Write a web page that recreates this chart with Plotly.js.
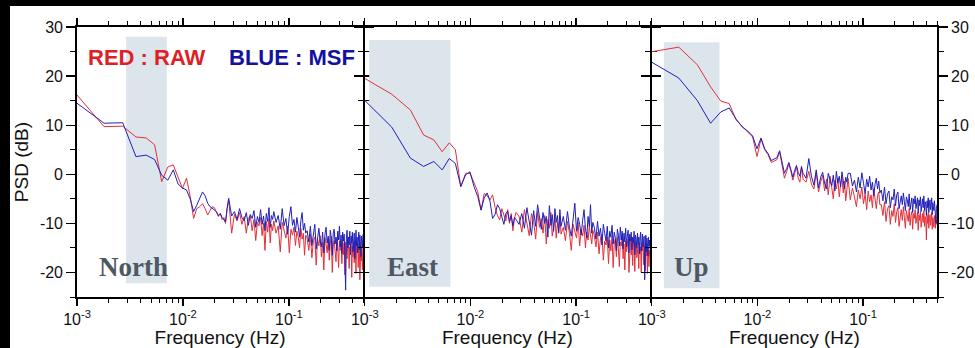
<!DOCTYPE html>
<html>
<head>
<meta charset="utf-8">
<script src="https://cdn.plot.ly/plotly-3.0.1.min.js"></script>
<style>
html,body{margin:0;padding:0;background:#fff;}
#chart{width:975px;height:348px;}
</style>
</head>
<body>
<div id="chart"></div>
<script>
// ---------------- DATA ----------------
const freqHz = [
  0.0009,0.0018,0.0027,0.0036,0.0045,0.0054,0.0063,0.0072,0.0081,0.0090,
  0.0099,0.0108,0.0117,0.0126,0.0135,0.0144,0.0153,0.0162,0.0171,0.0180,
  0.0189,0.0198,0.0207,0.0216,0.0225,0.0234,0.0243,0.0252,0.0261,0.0270,
  0.0288,0.0306,0.0324,0.0342,0.0360,0.0378,0.0396,0.0414,0.0432,0.0450,0.0468,0.0486,0.0504,
  0.0522,0.0540,0.0558,0.0576,0.0594,0.0612,0.0630,0.0648,0.0666,0.0684,0.0702,0.0720,
  0.0756,0.0792,0.0828,0.0864,0.0900,0.0936,0.0972,0.1008,0.1044,0.1080,
  0.1116,0.1152,0.1188,0.1224,0.1260,0.1296,0.1332,0.1368,0.1404,0.1440,
  0.1485,0.1539,0.1593,0.1647,0.1701,0.1755,0.1809,0.1863,0.1917,0.1971,0.2025,
  0.2079,0.2133,0.2187,0.2241,0.2295,0.2349,0.2403,0.2457,0.2511,0.2565,0.2619,
  0.2673,0.2727,0.2781,0.2835,0.2889,0.2943,0.2997,0.3051,0.3105,0.3159,0.3213,
  0.3267,0.3321,0.3375,0.3429,0.3483,0.3537,0.3591,0.3645,0.3699,0.3753,0.3807,
  0.3861,0.3915,0.3969,0.4023,0.4077,0.4131,0.4185,0.4239,0.4293,0.4347,0.4401,
  0.4455,0.4509,0.4563,0.4617,0.4671,0.4725,0.4779,0.4833,0.4887,0.4941,0.4995
];

const northRaw = [
  17.3, 9.7, 9.8, 7.6, 7.4, 6.0, -1.5, 1.5, 1.9, -0.5,
  -2.9, -0.8, -4.5, -9.0, -7.0, -6.6, -6.0, -7.0, -8.3, -7.4,
  -6.6, -6.8, -7.6, -8.6, -8.0, -9.2, -8.8, -10.0, -7.0, -5.2,
  -12.0, -8.2, -9.5, -7.8, -10.2, -8.6, -12.0, -9.0, -8.4, -11.5, -9.2, -13.5, -9.8,
  -10.5, -8.8, -12.5, -10.0, -15.5, -9.6, -11.8, -9.0, -14.0, -10.2, -11.5, -9.5,
  -12.0, -10.5, -15.8, -9.8, -11.5, -13.0, -10.6, -16.0, -11.2, -12.4,
  -10.8, -14.5, -11.6, -12.8, -15.0, -11.0, -13.2, -12.0, -16.5, -12.4,
  -13.0, -15.5, -12.2, -17.0, -13.5, -12.8, -18.5, -13.2, -14.6, -12.5, -16.8,
  -13.8, -19.5, -12.9, -14.2, -16.0, -13.1, -17.5, -14.0, -12.6, -20.0, -14.4,
  -13.5, -15.2, -17.8, -13.0, -14.8, -19.0, -13.6, -15.5, -14.1, -18.2, -13.4,
  -16.4, -14.0, -20.5, -13.8, -15.0, -17.2, -14.3, -13.6, -19.2, -14.8, -15.6,
  -13.9, -21.0, -14.6, -16.8, -14.2, -18.0, -13.8, -15.4, -20.2, -14.5, -16.0,
  -14.0, -19.0, -15.2, -14.4, -21.5, -15.8, -14.6, -17.6, -15.0, -19.5, -15.6
];
const northMsf = [
  15.2, 10.4, 10.5, 3.6, 3.9, 3.0, -0.2, -1.2, 0.9, -2.0,
  -2.8, -3.2, -5.0, -7.6, -6.3, -4.8, -3.6, -4.4, -5.9, -6.6,
  -7.0, -7.2, -7.6, -8.4, -8.0, -8.8, -9.2, -9.7, -7.0, -4.9,
  -8.5, -7.6, -9.2, -7.0, -8.8, -9.5, -7.8, -10.4, -8.2, -9.0, -7.4, -10.8, -8.6,
  -9.8, -7.2, -10.2, -8.5, -11.5, -8.0, -9.6, -6.8, -10.8, -8.4, -9.2, -7.6,
  -9.8, -8.4, -11.2, -7.0, -10.5, -9.0, -12.2, -8.6, -6.6, -10.4,
  -9.2, -11.8, -8.8, -10.6, -12.8, -9.4, -7.8, -11.4, -10.0, -12.0,
  -11.5, -13.8, -10.6, -14.5, -12.0, -10.2, -15.2, -12.4, -11.0, -13.6, -14.8,
  -11.8, -16.0, -12.2, -10.8, -14.0, -12.6, -15.5, -11.4, -13.0, -16.5, -12.0,
  -11.2, -14.2, -12.8, -15.6, -11.6, -13.4, -10.6, -14.8, -12.4, -16.2, -11.8,
  -13.6, -12.2, -17.0, -23.6, -13.0, -11.4, -15.0, -12.8, -14.4, -11.6, -16.4,
  -12.6, -14.0, -11.8, -15.8, -13.2, -12.0, -17.2, -13.6, -11.4, -14.6, -12.8,
  -16.0, -13.0, -11.8, -15.4, -12.4, -14.2, -16.8, -12.6, -13.4, -15.0, -12.2
];

const eastRaw = [
  20.1, 16.3, 13.1, 8.0, 7.0, 4.6, 6.4, 5.0, -2.5, 0.2,
  0.2, -1.8, -3.5, -7.3, -3.9, -4.4, -5.2, -4.2, -6.8, -8.4,
  -9.3, -7.0, -8.2, -9.5, -7.2, -10.0, -8.0, -11.5, -9.0, -7.8,
  -8.5, -11.8, -7.2, -10.0, -12.5, -8.0, -9.6, -13.2, -7.6, -10.8, -9.0, -12.0, -8.4,
  -14.2, -9.2, -11.0, -7.8, -12.6, -10.2, -8.8, -13.0, -9.8, -11.6, -8.6, -12.2,
  -10.8, -13.5, -9.6, -12.0, -15.5, -10.2, -11.8, -13.0, -9.8, -14.6,
  -11.2, -12.6, -10.4, -15.0, -11.8, -13.4, -10.6, -12.8, -14.2, -11.4,
  -12.5, -14.8, -11.8, -16.2, -13.0, -12.2, -17.5, -13.6, -14.4, -12.8, -18.2,
  -13.4, -15.6, -12.6, -19.0, -14.0, -13.2, -16.8, -12.9, -15.2, -18.8, -13.8,
  -14.6, -12.8, -17.2, -14.2, -19.5, -13.6, -15.8, -14.4, -13.2, -20.0, -14.8,
  -13.6, -16.4, -14.0, -18.6, -13.8, -15.2, -19.8, -14.2, -13.6, -17.0, -15.0,
  -14.4, -19.2, -13.9, -16.2, -14.8, -20.0, -14.2, -15.6, -13.8, -18.4, -15.2,
  -14.6, -19.6, -14.0, -16.6, -15.2, -20.2, -14.8, -16.0, -18.8, -15.4, -17.0
];
const eastMsf = [
  16.0, 9.6, 3.3, 1.6, 2.6, 0.9, 3.2, 2.2, -2.5, -0.1,
  0.5, -2.5, -4.5, -7.3, -4.8, -3.8, -5.5, -9.0, -8.2, -6.2,
  -7.0, -8.8, -10.2, -8.0, -7.5, -9.6, -8.4, -10.5, -8.8, -9.2,
  -10.2, -8.0, -11.0, -6.8, -9.6, -12.4, -7.4, -10.6, -6.2, -9.0, -11.2, -7.8, -10.0,
  -8.6, -12.8, -6.4, -10.4, -8.2, -11.6, -7.0, -9.8, -8.4, -12.0, -7.2, -10.6,
  -8.6, -11.4, -7.6, -10.8, -12.6, -9.0, -5.9, -11.6, -8.8, -10.2,
  -12.4, -9.4, -7.2, -11.0, -13.0, -8.6, -10.6, -6.2, -12.0, -9.8,
  -10.8, -13.2, -9.6, -12.6, -11.0, -14.4, -10.2, -12.0, -13.6, -10.6, -15.0,
  -11.6, -12.8, -10.4, -14.2, -11.8, -13.0, -15.6, -11.2, -12.4, -14.6, -10.8,
  -13.4, -11.6, -15.2, -12.0, -13.8, -11.0, -14.8, -12.6, -11.4, -16.0, -12.2,
  -13.6, -11.8, -15.4, -12.8, -14.0, -11.6, -16.4, -12.4, -13.2, -15.0, -12.0,
  -14.4, -12.8, -16.2, -13.0, -11.8, -15.6, -13.4, -12.2, -14.8, -13.6, -12.6,
  -21.5, -13.8, -12.4, -15.8, -13.0, -14.2, -16.6, -12.8, -14.6, -13.4, -15.2
];

const upRaw = [
  24.8, 25.9, 22.3, 17.8, 14.9, 14.4, 11.0, 9.8, 8.6, 7.6,
  3.6, 7.2, 5.0, 4.0, 2.4, 2.8, 3.0, 4.6, 1.8, -0.8,
  0.5, 2.2, 0.6, -1.2, 0.2, 1.5, -0.8, -1.6, 1.4, -1.0,
  -1.6, 0.6, -2.0, -3.0, 0.4, -3.6, -1.6, -0.2, -3.4, -1.0, -4.2, -0.4, -2.6,
  -5.0, -1.2, -3.0, -0.8, -4.6, -2.0, -0.6, -3.8, -1.4, -5.4, -2.2, -0.8,
  -5.2, -2.8, -4.6, -6.6, -3.2, -5.0, -2.6, -6.0, -4.0, -7.2,
  -3.4, -5.6, -4.2, -6.8, -3.0, -5.4, -7.0, -4.4, -3.6, -6.2,
  -6.2, -8.4, -5.6, -9.6, -7.0, -6.4, -10.2, -7.4, -8.6, -6.0, -9.8,
  -7.6, -6.8, -10.6, -8.0, -7.2, -9.4, -6.6, -8.8, -11.0, -7.4, -8.2,
  -9.6, -7.0, -10.4, -8.4, -7.6, -11.2, -8.0, -9.0, -7.2, -10.0, -8.6,
  -7.8, -11.4, -8.2, -9.4, -7.6, -10.8, -8.8, -8.0, -9.8, -7.4, -10.6,
  -8.6, -9.2, -13.4, -8.4, -10.0, -7.8, -11.0, -9.0, -8.2, -10.4, -9.4,
  -7.8, -11.2, -8.8, -9.6, -10.8, -8.4, -9.8, -11.0, -8.6, -10.2, -9.2
];
const upMsf = [
  23.4, 19.6, 15.0, 10.4, 12.7, 13.5, 11.2, 9.6, 8.8, 7.8,
  5.2, 7.4, 5.2, 4.2, 2.8, 3.2, 3.4, 4.8, 2.4, 0.2,
  1.2, 2.4, 1.0, -0.6, 0.8, 1.8, 0.4, -0.4, 1.6, 0.2,
  -0.8, 3.2, -0.4, -2.2, 0.9, -2.8, -0.6, 0.4, -1.8, -3.0, 0.2, -1.4, -2.4,
  -0.2, -3.4, 0.6, -1.8, -0.4, -2.6, 0.5, -1.2, -3.0, -0.6, -1.6, 0.2,
  0.2, -2.4, -1.2, -3.6, -0.6, -2.8, 0.3, -1.8, -4.0, -1.0,
  -2.6, -0.4, -3.2, -1.6, -4.4, -2.0, -0.8, -3.0, -1.4, -3.8,
  -3.2, -5.4, -2.6, -6.0, -4.0, -3.4, -6.8, -4.6, -5.2, -3.0, -6.4,
  -4.2, -3.6, -7.0, -5.0, -4.4, -6.2, -3.8, -5.6, -7.4, -4.6, -5.2,
  -6.6, -4.0, -7.2, -5.4, -4.8, -7.8, -5.0, -6.0, -4.4, -7.0, -5.6,
  -4.8, -8.0, -5.2, -6.4, -4.6, -7.6, -5.8, -5.0, -6.8, -4.4, -7.4,
  -5.6, -6.2, -8.4, -5.4, -6.8, -4.8, -7.8, -6.0, -5.2, -7.2, -6.4,
  -4.8, -8.2, -5.8, -6.6, -7.4, -5.4, -6.8, -8.6, -10.0, -7.0, -6.2
];

const panelNames = ['North', 'East', 'Up'];
// highlighted low-frequency bands per panel
const bandFreqLow  = [0.00291, 0.00110, 0.00130];
const bandFreqHigh = [0.00703, 0.00646, 0.00437];
const bandDbLow    = [-22.2, -22.9, -23.2];
const bandDbHigh   = [28.0, 27.35, 26.9];

const xTickVals = [0.001, 0.01, 0.1];
const xTickText = ['10<sup>-3</sup>', '10<sup>-2</sup>', '10<sup>-1</sup>'];
const yTickVals = [-20, -10, 0, 10, 20, 30];
const yTickText = ['-20', '-10', '0', '10', '20', '30'];
const yMinorVals = [-25, -15, -5, 5, 15, 25];

// ---------------- PLOT ----------------
const RED = '#e2303a';
const BLUE = '#2020b8';
const rawSeries = [northRaw, eastRaw, upRaw];
const msfSeries = [northMsf, eastMsf, upMsf];

const xMinor = [];
[0.001, 0.01, 0.1].forEach(d => { for (let m = 2; m <= 9; m++) { if (m * d <= 0.5) xMinor.push(m * d); } });

const traces = [];
for (let i = 0; i < 3; i++) {
  const sfx = i === 0 ? '' : String(i + 1);
  traces.push({x: freqHz, y: rawSeries[i], type: 'scatter', mode: 'lines',
    xaxis: 'x' + sfx, yaxis: 'y' + sfx, line: {color: RED, width: 1}, hoverinfo: 'skip'});
  traces.push({x: freqHz, y: msfSeries[i], type: 'scatter', mode: 'lines',
    xaxis: 'x' + sfx, yaxis: 'y' + sfx, line: {color: BLUE, width: 1}, hoverinfo: 'skip'});
}

const sans = 'Liberation Sans, Arial, Helvetica, sans-serif';
const plotW = 860;
const LW = 1.8; // axis line width; panels are offset by it so shared borders coincide
const domainStarts = [0, (286 + LW) / plotW, (573 + LW) / plotW];
const domainEnds = [286 / plotW, 573 / plotW, 1];
const layout = {
  width: 975, height: 348,
  margin: {l: 77, r: 38, t: 27, b: 51, pad: 0},
  paper_bgcolor: '#ffffff', plot_bgcolor: '#ffffff',
  showlegend: false,
  font: {family: sans, color: '#111111'},
  shapes: [], annotations: []
};

for (let i = 0; i < 3; i++) {
  const sfx = i === 0 ? '' : String(i + 1);
  const xa = {
    domain: [domainStarts[i], domainEnds[i]], type: 'log',
    range: [-3, Math.log10(0.5)], anchor: 'y' + sfx,
    showgrid: false, zeroline: false,
    showline: true, linecolor: '#000', linewidth: LW, mirror: 'allticks',
    ticks: 'outside', ticklen: 7, tickwidth: 1.3, tickcolor: '#000',
    tickvals: xTickVals, ticktext: xTickText,
    tickfont: {family: sans, size: 16, color: '#111'},
    minor: {tickvals: xMinor, ticks: 'outside', ticklen: 4, tickwidth: 1, tickcolor: '#000', showgrid: false},
    title: {text: 'Frequency (Hz)', font: {family: sans, size: 19, color: '#111'}, standoff: 1}
  };
  const ya = {
    domain: [0, 1], range: [-25, 30], anchor: 'x' + sfx,
    showgrid: false, zeroline: false,
    showline: true, linecolor: '#000', linewidth: LW, mirror: 'allticks',
    ticks: 'outside', ticklen: 9, tickwidth: 1.3, tickcolor: '#000',
    tickvals: yTickVals, ticktext: yTickText,
    tickfont: {family: sans, size: 16, color: '#111'},
    minor: {tickvals: yMinorVals, ticks: 'outside', ticklen: 5, tickwidth: 1, tickcolor: '#000', showgrid: false},
    showticklabels: i !== 1
  };
  if (i === 0) ya.title = {text: 'PSD (dB)', font: {family: sans, size: 19, color: '#111'}, standoff: 6};
  if (i === 2) ya.side = 'right';
  layout['xaxis' + sfx] = xa;
  layout['yaxis' + sfx] = ya;

  layout.shapes.push({type: 'rect', xref: 'x' + sfx, yref: 'y' + sfx, layer: 'below',
    x0: bandFreqLow[i], x1: bandFreqHigh[i], y0: bandDbLow[i], y1: bandDbHigh[i],
    fillcolor: '#dce4ec', line: {width: 0}});
  layout.annotations.push({xref: 'x' + sfx, yref: 'y' + sfx, x: -2.81, y: -18.9,
    xanchor: 'left', yanchor: 'middle', showarrow: false, text: panelNames[i],
    font: {family: 'Liberation Serif, Times New Roman, serif', size: 27, color: '#4e5863', weight: 'bold'}});
}

layout.annotations.push({xref: 'x', yref: 'y', x: -2.915, y: 23.7, xanchor: 'left', yanchor: 'middle',
  showarrow: false, text: 'RED : RAW', font: {family: sans, size: 22, color: '#de1f26', weight: 'bold'}});
layout.annotations.push({xref: 'x', yref: 'y', x: -1.585, y: 23.7, xanchor: 'left', yanchor: 'middle',
  showarrow: false, text: 'BLUE : MSF', font: {family: sans, size: 22, color: '#1212a0', weight: 'bold'}});

// black frame bands at top and left edge of the picture
layout.shapes.push({type: 'rect', xref: 'paper', yref: 'paper', x0: -0.0896, x1: 1.0442,
  y0: (297 - 6) / 270, y1: 1.1, fillcolor: '#000', line: {width: 0}, layer: 'above'});
layout.shapes.push({type: 'rect', xref: 'paper', yref: 'paper', x0: -0.0896, x1: (10 - 77) / 860,
  y0: -51 / 270, y1: 1.1, fillcolor: '#000', line: {width: 0}, layer: 'above'});

Plotly.newPlot('chart', traces, layout, {staticPlot: true, displayModeBar: false});
</script>
</body>
</html>
